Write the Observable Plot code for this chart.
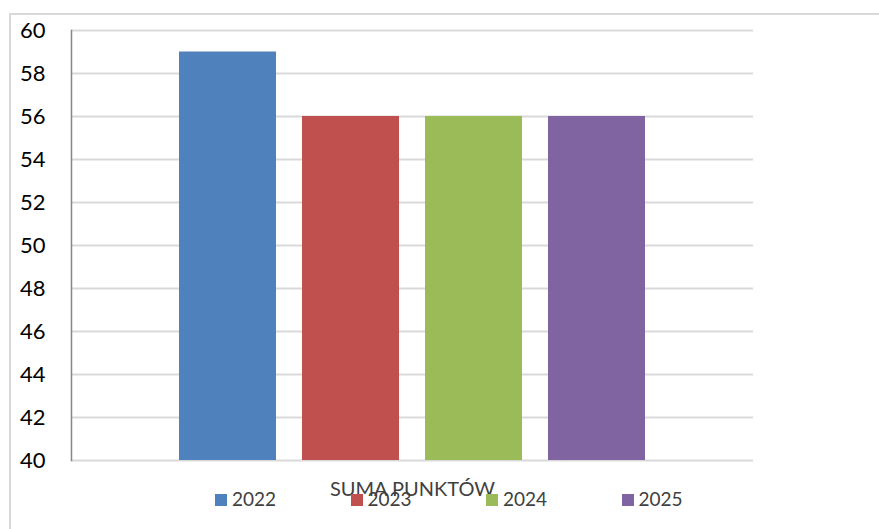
<!DOCTYPE html>
<html>
<head>
<meta charset="utf-8">
<script src="https://cdn.jsdelivr.net/npm/d3@7"></script>
<script src="https://cdn.jsdelivr.net/npm/@observablehq/plot@0.6"></script>
<style>
  html, body { margin: 0; padding: 0; background: #fff; }
  #wrap { position: relative; width: 879px; height: 529px; overflow: hidden; font-family: Lato, "Open Sans", sans-serif; }
  #border { position: absolute; left: 9px; top: 13px; width: 900px; height: 600px; border-top: 2px solid #d9d9d9; border-left: 2px solid #d9d9d9; }
  #chart { position: absolute; left: 0; top: 0; }
  #legend { position: absolute; left: 215px; top: 487px; display: flex; }
  .item { width: 135.5px; display: flex; align-items: center; font-size: 19px; color: #404040; }
  .sw { width: 12px; height: 12px; margin-right: 5px; margin-top: 3px; }
</style>
</head>
<body>
<div id="wrap">
  <div id="border"></div>
  <div id="chart"></div>
  <div id="legend"></div>
</div>
<script>
const years = ["2022", "2023", "2024", "2025"];
const values = [59, 56, 56, 56];
const colors = ["#4f81bd", "#c0504d", "#9bbb59", "#8064a2"];
const yTicks = [40, 42, 44, 46, 48, 50, 52, 54, 56, 58, 60];
const yDomain = [40, 60];
const axisTitle = "SUMA PUNKTÓW";

const data = years.map((y, i) => ({year: y, value: values[i], color: colors[i]}));

const chart = Plot.plot({
  width: 879,
  height: 529,
  marginLeft: 71,
  marginRight: 126,
  marginTop: 30,
  marginBottom: 69,
  style: {fontFamily: "Lato, 'Open Sans', sans-serif", background: "transparent"},
  x: {domain: years, range: [165, 660], paddingInner: 0.21, paddingOuter: 0.105, axis: null},
  y: {domain: yDomain, axis: null},
  marks: [
    Plot.gridY(yTicks, {stroke: "#d9d9d9", strokeWidth: 2, strokeOpacity: 1}),
    Plot.barY(data, {x: "year", y1: () => yDomain[0], y2: "value", fill: "color"}),
    Plot.frame({anchor: "left", stroke: "#868686", strokeWidth: 1.5}),
    Plot.axisY(yTicks, {tickSize: 0, tickPadding: 26, fontSize: 22, color: "#000", label: null}),
    Plot.text([axisTitle], {frameAnchor: "bottom", dy: 29, lineAnchor: "middle", fontSize: 20, fill: "#404040"})
  ]
});
document.getElementById("chart").appendChild(chart);

const legend = document.getElementById("legend");
years.forEach((y, i) => {
  const it = document.createElement("div");
  it.className = "item";
  const sw = document.createElement("span");
  sw.className = "sw";
  sw.style.background = colors[i];
  const t = document.createElement("span");
  t.textContent = y;
  it.appendChild(sw);
  it.appendChild(t);
  legend.appendChild(it);
});
</script>
</body>
</html>
